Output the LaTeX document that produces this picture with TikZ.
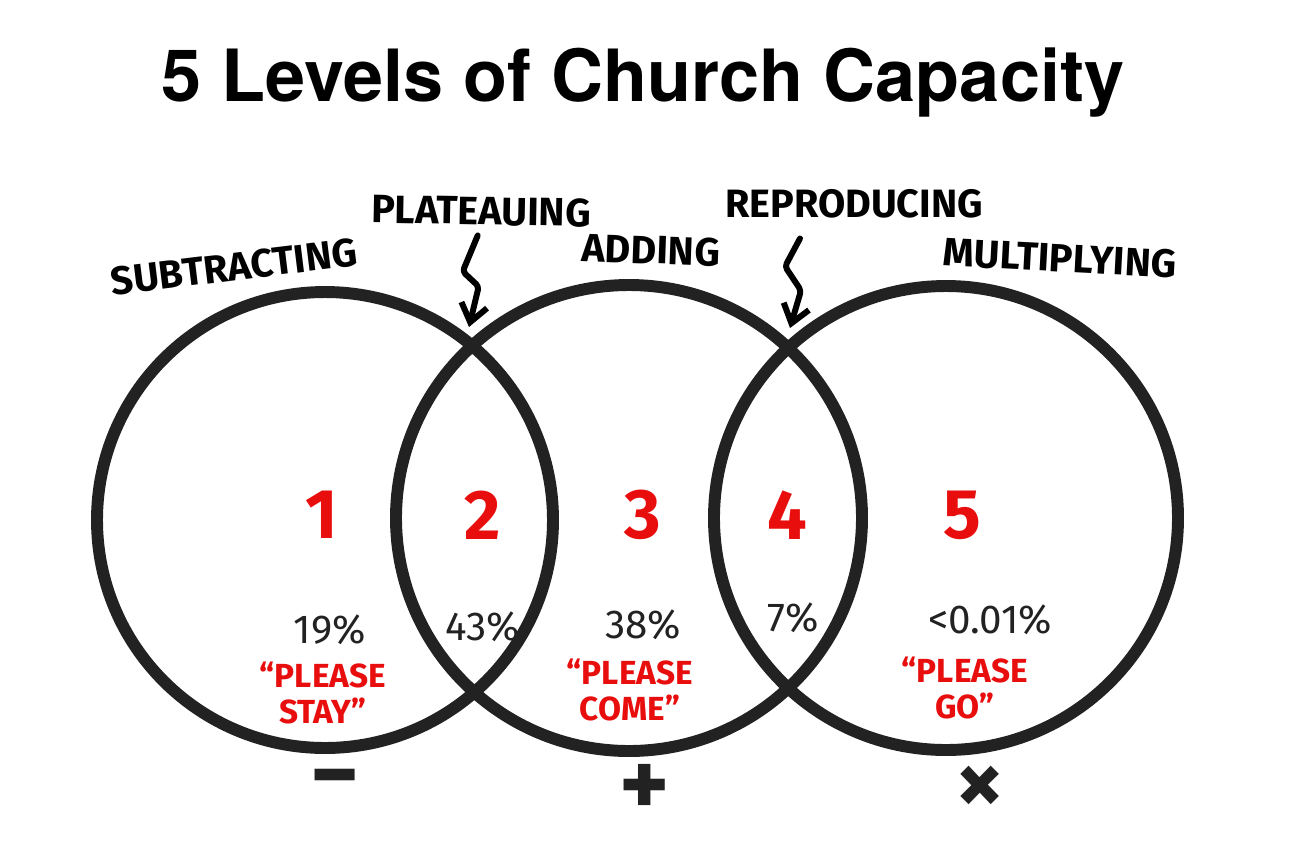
\documentclass[tikz,border=0pt]{standalone}
\usepackage{fontspec}
\setmainfont{TeX Gyre Heros}
\newfontfamily\handfont{Fira Sans}
\usetikzlibrary{arrows.meta}
\definecolor{ink}{RGB}{34,34,34}
\definecolor{marker}{RGB}{232,14,14}
\begin{document}
\begin{tikzpicture}[x=0.02cm, y=-0.02cm, line cap=round, line join=round, >={Straight Barb[length=10pt,width=15pt]},
		ring/.style={draw=ink, line width=6.8pt},
		bolt/.style={draw=black, line width=3.4pt, rounded corners=2pt},
		stage/.style={font=\handfont\bfseries\fontsize{22.5}{22.5}\selectfont, inner sep=1pt},
		level/.style={text=marker, font=\handfont\bfseries\fontsize{40}{40}\selectfont},
		share/.style={text=ink, font=\handfont\fontsize{23}{23}\selectfont},
		motto/.style={text=marker, align=center, font=\handfont\bfseries\fontsize{19}{21}\selectfont},
		sign/.style={text=ink, font=\handfont\bfseries\fontsize{54}{54}\selectfont}] \def\ra{228} \def\rb{233} \def\rc{232}
	\useasboundingbox (0,0) rectangle (1292,850);
	\node[font=\bfseries\fontsize{41}{41}\selectfont, anchor=base] (title) at (643,101) {5 Levels of Church Capacity};
	\coordinate (c1) at (325,520); \coordinate (c2) at (629,518); \coordinate (c3) at (946,518);
	\draw[ring] (c1) circle[radius=\ra] (c2) circle[radius=\rb] (c3) circle[radius=\rc];
	\coordinate (tip12) at (469,327); \coordinate (tip23) at (790,328);
	\node[stage, rotate=7] (subtr) at (234,267) {SUBTRACTING};
	\node[stage, rotate=-1] (plat) at (481,211) {PLATEAUING};
	\node[stage, rotate=-2] (add) at (651,250) {ADDING};
	\node[stage] (repr) at (854,204) {REPRODUCING};
	\node[stage, rotate=-3] (mult) at (1060,258) {MULTIPLYING};
	\draw[bolt,->] (plat.south) ++(-3,8) -- ++(-15,36) -- ++(16,15) -- (tip12);
	\draw[bolt,->] (repr.south) ++(-54,18) -- ++(-15,28) -- ++(16,24) -- (tip23);
	\foreach \n/\x in {1/322, 2/483, 3/643, 4/787, 5/962} {\node[level] (lvl\n) at (\x,515) {\n};}
	\foreach \n/\x/\y/\t in {1/330/630/19\%, 2/483/627/43\%, 3/643/625/38\%, 4/793/618/7\%, 5/990/620/<0.01\%} {\node[share] (pct\n) at (\x,\y) {\t};}
	\node[motto] (stay) at (323,693) {“PLEASE\\STAY”};
	\node[motto] (come) at (630,690) {“PLEASE\\COME”};
	\node[motto] (go) at (965,688) {“PLEASE\\GO”};
	\node[sign] (minus) at (335,788) {−}; \node[sign] (plus) at (645,790) {+}; \node[sign] (times) at (980,790) {×};
\end{tikzpicture}
\end{document}
